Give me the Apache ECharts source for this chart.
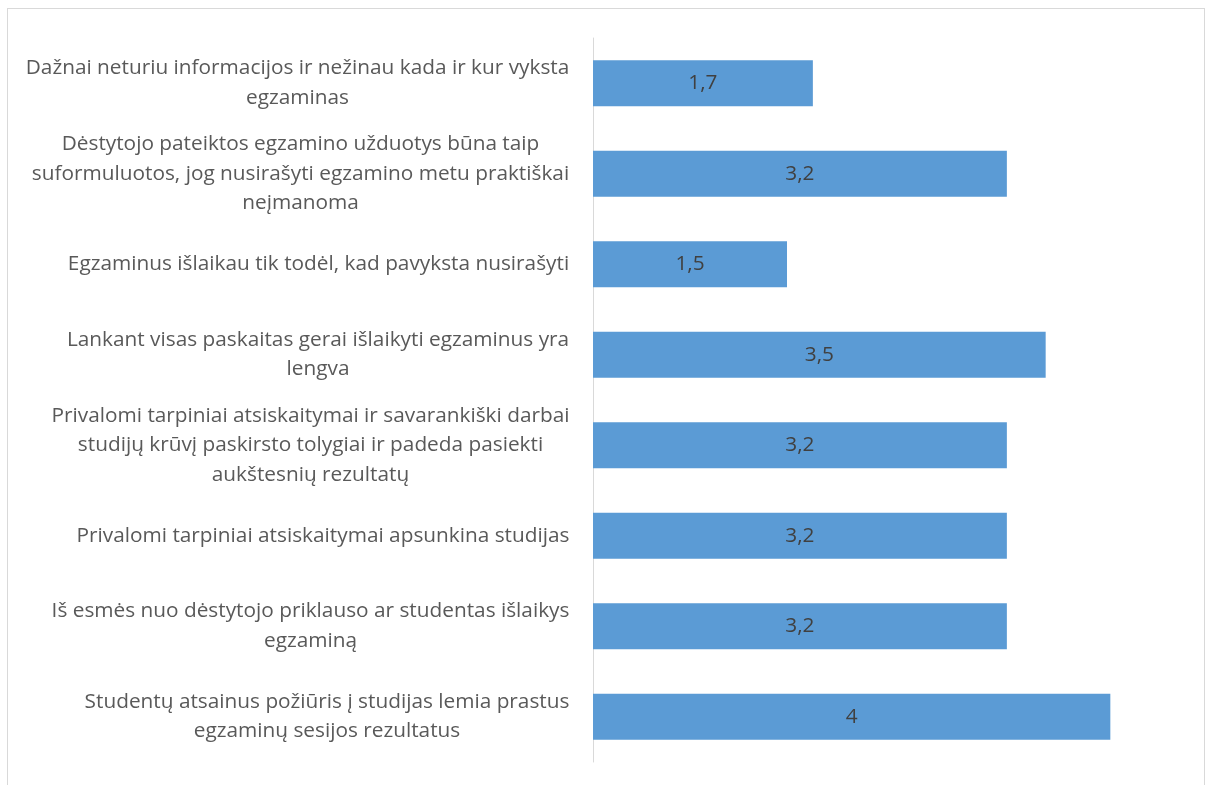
<!DOCTYPE html>
<html>
<head>
<meta charset="utf-8">
<script src="https://cdn.jsdelivr.net/npm/echarts@6/dist/echarts.min.js"></script>
<style>
html,body{margin:0;padding:0;background:#fff;width:1208px;height:785px;overflow:hidden;}
#frame{position:absolute;left:7px;top:8px;width:1198px;height:800px;border:1px solid #d9d9d9;box-sizing:border-box;}
#chart{position:absolute;left:0;top:0;width:1208px;height:785px;}
</style>
</head>
<body>
<div id="frame"></div>
<div id="chart"></div>
<script>
const categories = [
  "Dažnai neturiu informacijos ir nežinau kada ir kur vyksta\negzaminas",
  "Dėstytojo pateiktos egzamino užduotys būna taip\nsuformuluotos, jog nusirašyti egzamino metu praktiškai\nneįmanoma",
  "Egzaminus išlaikau tik todėl, kad pavyksta nusirašyti",
  "Lankant visas paskaitas gerai išlaikyti egzaminus yra\nlengva",
  "Privalomi tarpiniai atsiskaitymai ir savarankiški darbai\nstudijų krūvį paskirsto tolygiai ir padeda pasiekti\naukštesnių rezultatų",
  "Privalomi tarpiniai atsiskaitymai apsunkina studijas",
  "Iš esmės nuo dėstytojo priklauso ar studentas išlaikys\negzaminą",
  "Studentų atsainus požiūris į studijas lemia prastus\negzaminų sesijos rezultatus"
];
const values = [1.7, 3.2, 1.5, 3.5, 3.2, 3.2, 3.2, 4];

const FONT = 'Open Sans';
const FS = 20.8;
const TXT = '#595959';
const VAL = '#404040';
const LH = 29.5;

const cv = document.createElement('canvas').getContext('2d');
cv.font = FS + 'px "' + FONT + '"';
const rich = {};
categories.forEach((c, i) => {
  const w = Math.max(...c.split('\n').map(l => cv.measureText(l).width));
  rich['c' + i] = {width: Math.ceil(w) + 1, align: 'center', fontSize: FS, fontFamily: FONT, color: TXT, lineHeight: LH};
});

const chart = echarts.init(document.getElementById('chart'));
chart.setOption({
  animation: false,
  grid: {left: 593, right: 33, top: 38, bottom: 23, containLabel: false},
  xAxis: {type: 'value', min: 0, max: 4.5, show: false, splitLine: {show: false}},
  yAxis: {
    type: 'category', data: categories, inverse: true,
    axisLine: {show: true, lineStyle: {color: '#d9d9d9', width: 1}},
    axisTick: {show: false},
    axisLabel: {
      margin: 23, align: 'right', fontSize: FS, fontFamily: FONT, color: TXT, lineHeight: LH,
      formatter: (v, i) => v.split('\n').map(l => '{c' + i + '|' + l + '}').join('\n'),
      rich: rich
    }
  },
  series: [{
    type: 'bar', data: values, barWidth: 46,
    itemStyle: {color: '#5b9bd5'},
    label: {show: true, position: 'inside', color: VAL, fontSize: FS, fontFamily: FONT,
      formatter: p => String(p.value).replace('.', ',')}
  }]
});
</script>
</body>
</html>
